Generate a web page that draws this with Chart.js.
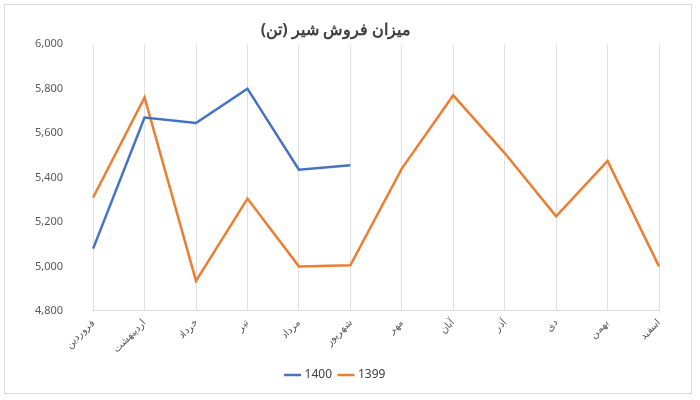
<!DOCTYPE html>
<html>
<head>
<meta charset="utf-8">
<script src="https://cdn.jsdelivr.net/npm/chart.js@4"></script>
<style>
  body { margin: 0; background: #fff; }
  .box { position: absolute; left: 4px; top: 4px; width: 686px; height: 388px; border: 1px solid #d9d9d9; }
</style>
</head>
<body>
<div class="box"><canvas id="c" width="686" height="388"></canvas></div>
<script>
const months = ['فروردین', 'اردیبهشت', 'خرداد', 'تیر', 'مرداد', 'شهریور', 'مهر', 'آبان', 'آذر', 'دی', 'بهمن', 'اسفند'];
const sales1400 = [5080, 5670, 5645, 5800, 5435, 5455, null, null, null, null, null, null];
const sales1399 = [5310, 5760, 4935, 5305, 5000, 5005, 5440, 5770, 5510, 5225, 5475, 5000];

const font = { family: 'Noto Sans', size: 10 };

new Chart(document.getElementById('c'), {
  type: 'line',
  data: {
    labels: months,
    datasets: [
      { label: '1400', data: sales1400, borderColor: '#4472c4', backgroundColor: '#4472c4', borderWidth: 2.5, pointRadius: 0, tension: 0, spanGaps: false },
      { label: '1399', data: sales1399, borderColor: '#ed7d31', backgroundColor: '#ed7d31', borderWidth: 2.5, pointRadius: 0, tension: 0 },
    ],
  },
  options: {
    responsive: false,
    animation: false,
    layout: { padding: { left: 8, right: 32, top: 2, bottom: 2 } },
    plugins: {
      title: { display: true, text: 'میزان فروش شیر (تن)', color: '#404040', font: { family: 'Noto Sans', size: 16, weight: 'bold' }, padding: { top: 14, bottom: 4 } },
      legend: {
        position: 'bottom',
        labels: { color: '#404040', font: { family: 'Noto Sans', size: 12 }, usePointStyle: true, pointStyle: 'line', boxWidth: 30, padding: 8 },
      },
    },
    scales: {
      x: {
        offset: false,
        grid: { color: '#e0e0e0', drawTicks: false },
        border: { color: '#d9d9d9' },
        ticks: { color: '#595959', font, minRotation: 45, maxRotation: 45, padding: 6 },
      },
      y: {
        min: 4800,
        max: 6000,
        grid: { display: false },
        border: { display: false },
        ticks: { stepSize: 200, color: '#595959', font: { family: 'Noto Sans', size: 11 }, padding: 22, callback: (v) => v.toLocaleString('en-US') },
      },
    },
  },
});
</script>
</body>
</html>
